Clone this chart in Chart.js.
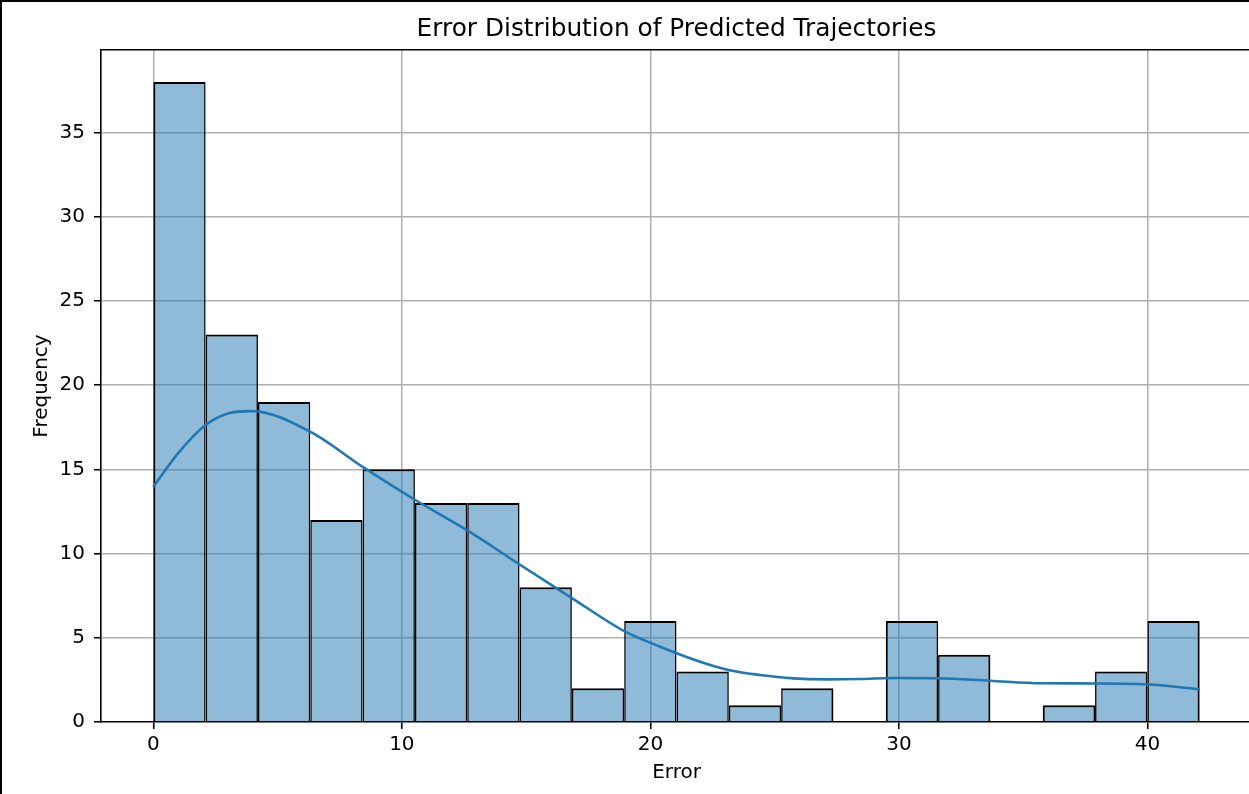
<!DOCTYPE html>
<html>
<head>
<meta charset="utf-8">
<title>Error Distribution of Predicted Trajectories</title>
<script src="https://cdn.jsdelivr.net/npm/chart.js@4.4.1/dist/chart.umd.min.js"></script>
<style>
  html, body { margin: 0; padding: 0; background: #fff; overflow: hidden; }
  #wrap { position: relative; width: 1249px; height: 794px; overflow: hidden; background: #fff; }
  #c { position: absolute; left: 0; top: 0; }
  #frame { position: absolute; left: 0; top: 0; right: 0; bottom: 0;
           border-left: 2px solid #000; border-top: 2px solid #000; pointer-events: none; }
</style>
</head>
<body>
<div id="wrap">
  <canvas id="c" width="1256" height="794"></canvas>
  <div id="frame"></div>
</div>
<script>
// Histogram: 20 equal-width bins over the observed error range
const errorRange = [0, 42.1];
const binCounts = [38, 23, 19, 12, 15, 13, 13, 8, 2, 6, 3, 1, 2, 0, 6, 4, 0, 1, 3, 6];

// Kernel density estimate, scaled to counts
const kdeErrors    = [0, 1.0, 2.1, 3.0, 3.95, 6.32, 8.44, 10.54, 12.62, 14.77, 16.84, 18.99, 20.39, 22.0, 23.13, 24.41, 25.74, 27.1, 28.44, 29.77, 31.57, 33.66, 35.74, 37.88, 39.96, 42.1];
const kdeFrequency = [13.96, 15.96, 17.63, 18.32, 18.46, 17.23, 15.13, 13.18, 11.39, 9.32, 7.36, 5.36, 4.47, 3.58, 3.09, 2.79, 2.59, 2.53, 2.55, 2.61, 2.6, 2.45, 2.3, 2.29, 2.24, 1.94];

// Axis ticks
const xTickValues = [0, 10, 20, 30, 40];
const yTickValues = [0, 5, 10, 15, 20, 25, 30, 35];

const binWidth = (errorRange[1] - errorRange[0]) / binCounts.length;
const histPoints = binCounts.map((n, i) => ({ x: errorRange[0] + (i + 0.5) * binWidth, y: n }));
const kdePoints = kdeErrors.map((e, i) => ({ x: e, y: kdeFrequency[i] }));

const span = errorRange[1] - errorRange[0];
const xMin = errorRange[0] - 0.05 * span;
const xMax = errorRange[1] + 0.05 * span;
const yMax = Math.max(...binCounts) * 1.05;

const FONT = 'DejaVu Sans';
const gridColor = '#b0b0b0';

// Shared edges get part of the stroke from each neighbour; outer edges get the full stroke
function barBorder(ctx) {
  const i = ctx.dataIndex;
  const prev = i > 0 ? binCounts[i - 1] : 0;
  const next = i < binCounts.length - 1 ? binCounts[i + 1] : 0;
  return { top: 2, bottom: 0, left: prev > 0 ? 1.5 : 2, right: next > 0 ? 1.5 : 2 };
}

new Chart(document.getElementById('c'), {
  type: 'bar',
  data: {
    datasets: [
      {
        type: 'line',
        data: kdePoints,
        borderColor: '#1f77b4',
        borderWidth: 2.6,
        pointRadius: 0,
        fill: false,
        cubicInterpolationMode: 'monotone',
        order: 0
      },
      {
        type: 'bar',
        data: histPoints,
        backgroundColor: 'rgba(31,119,180,0.5)',
        borderColor: '#000',
        borderWidth: barBorder,
        borderSkipped: 'start',
        inflateAmount: 0,
        barPercentage: 1,
        categoryPercentage: 1,
        order: 1
      }
    ]
  },
  options: {
    responsive: false,
    animation: false,
    devicePixelRatio: 1,
    layout: { padding: { left: 0, right: 4, top: 0, bottom: 0 } },
    plugins: {
      legend: { display: false },
      tooltip: { enabled: false },
      title: {
        display: true,
        text: 'Error Distribution of Predicted Trajectories',
        color: '#000',
        fullSize: false,
        font: { family: FONT, size: 24.8, weight: 'normal' },
        padding: { top: 15, bottom: 5.2 }
      }
    },
    scales: {
      x: {
        type: 'linear',
        position: 'bottom',
        min: xMin,
        max: xMax,
        offset: false,
        z: 1,
        afterBuildTicks: s => { s.ticks = xTickValues.map(v => ({ value: v })); },
        afterFit: s => { s.height = 72; },
        grid: { color: gridColor, lineWidth: 1.5, offset: false,
                tickColor: '#000', tickLength: 7, tickWidth: 1.6 },
        border: { display: true, color: '#000', width: 1.6 },
        ticks: { color: '#000', font: { family: FONT, size: 20 }, padding: 4,
                 maxRotation: 0, autoSkip: false, callback: v => String(v) },
        title: { display: true, text: 'Error', color: '#000',
                 font: { family: FONT, size: 20 }, padding: { top: 0, bottom: 9.5 } }
      },
      x2: {
        type: 'linear',
        position: 'top',
        min: xMin,
        max: xMax,
        z: 1,
        afterFit: s => { s.height = 0; },
        grid: { display: false },
        ticks: { display: false },
        border: { display: true, color: '#000', width: 1.6 }
      },
      y: {
        type: 'linear',
        min: 0,
        max: yMax,
        z: 1,
        afterBuildTicks: s => { s.ticks = yTickValues.map(v => ({ value: v })); },
        afterFit: s => { s.width = 101; },
        grid: { color: c => (c.tick && c.tick.value === 0 ? 'rgba(0,0,0,0)' : gridColor),
                lineWidth: 1.5, tickColor: '#000', tickLength: 7, tickWidth: 1.6 },
        border: { display: true, color: '#000', width: 1.6 },
        ticks: { color: '#000', font: { family: FONT, size: 20 }, padding: 9,
                 autoSkip: false, callback: v => String(v) },
        title: { display: true, text: 'Frequency', color: '#000',
                 font: { family: FONT, size: 20 }, padding: { top: 29.7, bottom: 0 } }
      }
    }
  }
});
</script>
</body>
</html>
